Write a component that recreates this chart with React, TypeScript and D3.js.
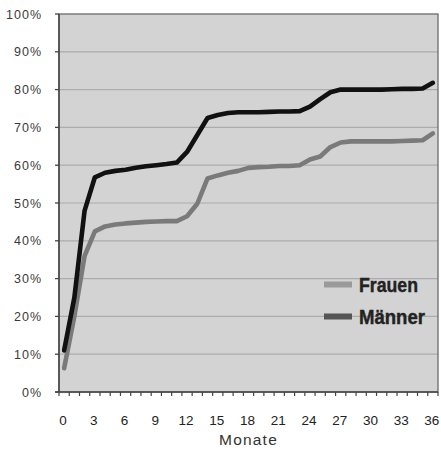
import React from 'react';
import * as d3 from 'd3';

// Anteil (kumuliert) nach Monaten
const months = [0, 1, 2, 3, 4, 5, 6, 7, 8, 9, 10, 11, 12, 13, 14, 15, 16, 17, 18, 19, 20, 21, 22, 23, 24, 25, 26, 27, 28, 29, 30, 31, 32, 33, 34, 35, 36];
const frauen = [6.3, 20, 36, 42.5, 43.8, 44.3, 44.6, 44.8, 45, 45.1, 45.2, 45.2, 46.5, 49.8, 56.5, 57.3, 58, 58.5, 59.3, 59.5, 59.6, 59.8, 59.8, 60, 61.5, 62.3, 64.8, 66, 66.3, 66.3, 66.3, 66.3, 66.3, 66.4, 66.5, 66.6, 68.4];
const maenner = [11, 25, 48, 56.8, 58, 58.5, 58.8, 59.3, 59.7, 60, 60.3, 60.7, 63.5, 68, 72.5, 73.3, 73.8, 74, 74, 74, 74.1, 74.2, 74.2, 74.3, 75.5, 77.5, 79.3, 80, 80, 80, 80, 80, 80.1, 80.2, 80.2, 80.3, 81.8];
const xLabels = [0, 3, 6, 9, 12, 15, 18, 21, 24, 27, 30, 33, 36];
const yTicks = [0, 10, 20, 30, 40, 50, 60, 70, 80, 90, 100];

const W = 441;
const H = 451;
const plot = { left: 59, right: 438, top: 14, bottom: 392 };

export default function App() {
  const x = d3.scaleLinear().domain([-0.5, months.length - 0.5]).range([plot.left, plot.right]);
  const y = d3.scaleLinear().domain([0, 100]).range([plot.bottom, plot.top]);

  const line = d3.line<number>()
    .x((_, i) => x(months[i]))
    .y(d => y(d));

  const boundaries = d3.range(months.length + 1).map(i => i - 0.5);

  return (
    <div style={{ position: 'absolute', left: 0, top: 0 }}>
      <svg width={W} height={H} style={{ display: 'block', background: '#fff' }}>
        <rect x={plot.left} y={plot.top} width={plot.right - plot.left} height={plot.bottom - plot.top} fill="#d3d3d3" />
        {yTicks.filter(t => t > 0 && t < 100).map(t => (
          <line key={t} x1={plot.left} x2={plot.right} y1={y(t)} y2={y(t)} stroke="#acacac" strokeWidth={1.2} />
        ))}
        <rect x={plot.left} y={plot.top} width={plot.right - plot.left} height={plot.bottom - plot.top} fill="none" stroke="#6a6a6a" strokeWidth={1.3} />
        <line x1={plot.left} x2={plot.left} y1={plot.top} y2={plot.bottom} stroke="#444" strokeWidth={1.5} />
        <line x1={plot.left - 4} x2={plot.right} y1={plot.bottom} y2={plot.bottom} stroke="#444" strokeWidth={1.5} />

        {/* y axis */}
        {yTicks.map(t => (
          <g key={t}>
            <line x1={plot.left - 4} x2={plot.left} y1={y(t)} y2={y(t)} stroke="#444" strokeWidth={1.3} />
            <text x={42} y={y(t) + 4.5} textAnchor="end" fontFamily="Liberation Sans, Arial, sans-serif" fontSize={12.5} letterSpacing={1} fill="#3a3a3a">{t}%</text>
          </g>
        ))}

        {/* x axis */}
        {boundaries.map(b => (
          <line key={b} x1={x(b)} x2={x(b)} y1={plot.bottom} y2={plot.bottom + 4} stroke="#444" strokeWidth={1.2} />
        ))}
        {xLabels.map(m => (
          <text key={m} x={x(m) - 1} y={425} textAnchor="middle" fontFamily="Liberation Sans Narrow, Arial Narrow, sans-serif" fontSize={13.5} fill="#222">{m}</text>
        ))}
        <text x={(plot.left + plot.right) / 2} y={445} textAnchor="middle" fontFamily="Liberation Sans, Arial, sans-serif" fontSize={15.5} letterSpacing={1.2} fill="#333">Monate</text>

        {/* lines */}
        <path d={line(frauen) ?? ''} fill="none" stroke="#7a7a7a" strokeWidth={4.6} strokeLinejoin="round" strokeLinecap="round" />
        <path d={line(maenner) ?? ''} fill="none" stroke="#111" strokeWidth={4.6} strokeLinejoin="round" strokeLinecap="round" />

        {/* legend */}
        <rect x={324} y={281.5} width={28} height={6} fill="#9a9a9a" />
        <text x={359} y={291.5} textLength={59} lengthAdjust="spacingAndGlyphs" fontFamily="Liberation Sans Narrow, Arial Narrow, sans-serif" fontWeight="bold" fontSize={20} stroke="#222" strokeWidth={0.4} fill="#222">Frauen</text>
        <rect x={324} y={313.5} width={28} height={6} fill="#555" />
        <text x={359} y={324.3} textLength={66} lengthAdjust="spacingAndGlyphs" fontFamily="Liberation Sans Narrow, Arial Narrow, sans-serif" fontWeight="bold" fontSize={20} stroke="#222" strokeWidth={0.4} fill="#222">Männer</text>
      </svg>
    </div>
  );
}
